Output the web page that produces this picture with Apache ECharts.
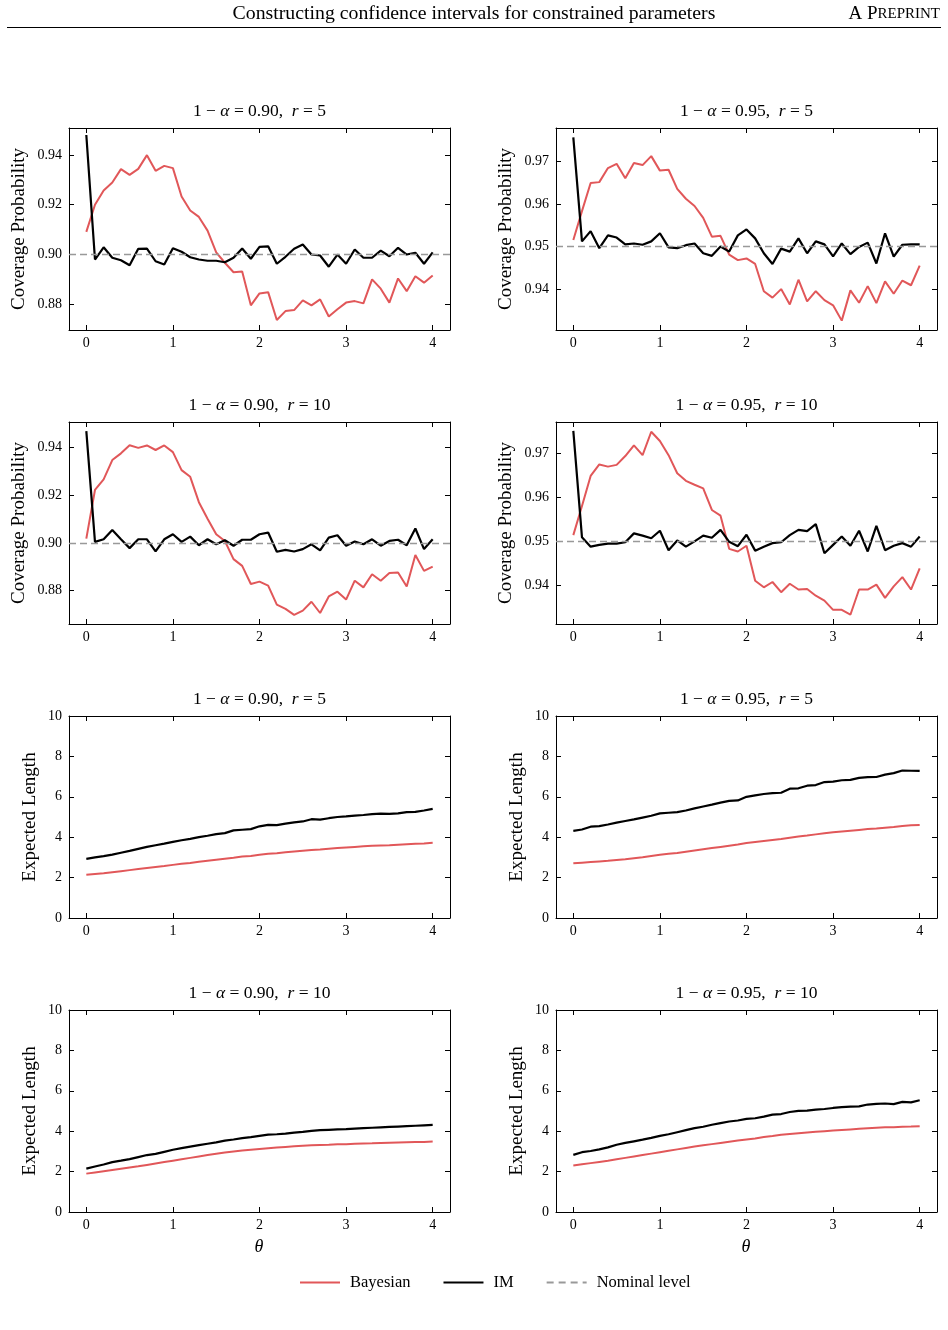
<!DOCTYPE html>
<html>
<head>
<meta charset="utf-8">
<title>Coverage and expected length</title>
<script src="https://cdn.jsdelivr.net/npm/echarts@6.0.0/dist/echarts.min.js"></script>
<style>
  html, body { margin: 0; padding: 0; background: #fff; }
  #chart { width: 948px; height: 1330px; }
</style>
</head>
<body>
<div id="chart"></div>
<script>
// theta grid
var theta = [0, 0.1, 0.2, 0.3, 0.4, 0.5, 0.6, 0.7, 0.8, 0.9, 1.0, 1.1, 1.2, 1.3, 1.4, 1.5, 1.6, 1.7, 1.8, 1.9, 2.0,
             2.1, 2.2, 2.3, 2.4, 2.5, 2.6, 2.7, 2.8, 2.9, 3.0, 3.1, 3.2, 3.3, 3.4, 3.5, 3.6, 3.7, 3.8, 3.9, 4.0];
var xTicks = [0, 1, 2, 3, 4];

// coverage probability
var cov90r5Bayes = [0.9091,0.9200,0.9257,0.9289,0.9343,0.9320,0.9344,0.9399,0.9336,0.9356,0.9347,0.9233,0.9177,0.9151,0.9096,0.9009,0.8967,0.8929,0.8932,0.8796,0.8844,0.8849,0.8737,0.8773,0.8777,0.8816,0.8796,0.8820,0.8751,0.8780,0.8807,0.8813,0.8804,0.8900,0.8863,0.8807,0.8904,0.8853,0.8913,0.8887,0.8916];
var cov90r5IM    = [0.9480,0.8980,0.9029,0.8987,0.8977,0.8957,0.9023,0.9024,0.8973,0.8960,0.9025,0.9011,0.8989,0.8980,0.8975,0.8975,0.8969,0.8987,0.9024,0.8983,0.9031,0.9033,0.8963,0.8991,0.9023,0.9040,0.9000,0.8996,0.8951,0.9000,0.8963,0.9020,0.8987,0.8987,0.9016,0.8993,0.9027,0.9000,0.9007,0.8963,0.9009];
var cov95r5Bayes = [0.9515,0.9583,0.9649,0.9651,0.9684,0.9694,0.9660,0.9696,0.9691,0.9712,0.9678,0.9680,0.9635,0.9612,0.9595,0.9567,0.9523,0.9525,0.9481,0.9468,0.9472,0.9459,0.9395,0.9380,0.9400,0.9364,0.9422,0.9371,0.9395,0.9374,0.9362,0.9326,0.9397,0.9368,0.9407,0.9367,0.9418,0.9389,0.9420,0.9409,0.9455];
var cov95r5IM    = [0.9756,0.9512,0.9536,0.9496,0.9526,0.9521,0.9505,0.9507,0.9504,0.9512,0.9531,0.9498,0.9496,0.9503,0.9507,0.9484,0.9478,0.9500,0.9488,0.9526,0.9540,0.9519,0.9484,0.9459,0.9495,0.9488,0.9519,0.9484,0.9512,0.9505,0.9477,0.9507,0.9482,0.9499,0.9509,0.9460,0.9531,0.9476,0.9504,0.9505,0.9505];
var cov90r10Bayes = [0.9018,0.9221,0.9265,0.9346,0.9374,0.9408,0.9397,0.9407,0.9388,0.9407,0.9379,0.9304,0.9276,0.9170,0.9101,0.9036,0.9008,0.8932,0.8904,0.8828,0.8838,0.8821,0.8742,0.8724,0.8699,0.8717,0.8754,0.8707,0.8776,0.8796,0.8763,0.8842,0.8814,0.8869,0.8842,0.8874,0.8876,0.8818,0.8949,0.8883,0.8901];
var cov90r10IM    = [0.9467,0.9004,0.9015,0.9054,0.9015,0.8978,0.9015,0.9015,0.8964,0.9015,0.9036,0.9004,0.9026,0.8990,0.9015,0.8994,0.9011,0.8988,0.9013,0.9013,0.9036,0.9043,0.8963,0.8971,0.8964,0.8974,0.8994,0.8969,0.9022,0.9032,0.8988,0.9006,0.8994,0.9015,0.8988,0.9008,0.9013,0.8990,0.9060,0.8974,0.9015];
var cov95r10Bayes = [0.9514,0.9580,0.9648,0.9674,0.9669,0.9673,0.9693,0.9717,0.9695,0.9748,0.9727,0.9695,0.9654,0.9637,0.9628,0.9620,0.9571,0.9558,0.9483,0.9477,0.9490,0.9411,0.9396,0.9408,0.9385,0.9404,0.9391,0.9392,0.9377,0.9366,0.9345,0.9345,0.9334,0.9391,0.9391,0.9402,0.9372,0.9398,0.9419,0.9391,0.9439];
var cov95r10IM    = [0.9750,0.9509,0.9488,0.9492,0.9495,0.9495,0.9498,0.9518,0.9513,0.9507,0.9524,0.9480,0.9502,0.9488,0.9500,0.9513,0.9508,0.9526,0.9499,0.9489,0.9515,0.9479,0.9488,0.9496,0.9498,0.9514,0.9526,0.9523,0.9539,0.9473,0.9492,0.9511,0.9490,0.9524,0.9477,0.9535,0.9480,0.9490,0.9496,0.9488,0.9511];

// expected length
var len90r5Bayes = [2.14,2.18,2.22,2.27,2.32,2.37,2.42,2.47,2.52,2.57,2.63,2.68,2.72,2.78,2.83,2.88,2.93,2.98,3.04,3.07,3.13,3.18,3.21,3.25,3.29,3.33,3.37,3.39,3.43,3.46,3.49,3.52,3.55,3.58,3.59,3.60,3.63,3.65,3.67,3.69,3.72];
var len90r5IM    = [2.93,3.00,3.06,3.14,3.23,3.32,3.42,3.52,3.60,3.68,3.77,3.85,3.92,4.00,4.07,4.15,4.20,4.34,4.37,4.40,4.54,4.61,4.60,4.67,4.73,4.78,4.89,4.87,4.94,5.00,5.03,5.07,5.10,5.14,5.17,5.15,5.18,5.24,5.25,5.32,5.40];
var len95r5Bayes = [2.71,2.74,2.77,2.80,2.83,2.87,2.91,2.96,3.01,3.07,3.13,3.18,3.22,3.28,3.34,3.40,3.46,3.52,3.58,3.64,3.71,3.76,3.81,3.86,3.91,3.97,4.03,4.08,4.14,4.19,4.24,4.28,4.32,4.36,4.40,4.43,4.47,4.51,4.56,4.59,4.60];
var len95r5IM    = [4.31,4.38,4.52,4.55,4.63,4.72,4.80,4.88,4.97,5.06,5.18,5.21,5.24,5.32,5.43,5.52,5.61,5.71,5.80,5.82,6.00,6.07,6.14,6.18,6.20,6.40,6.42,6.55,6.58,6.73,6.75,6.82,6.84,6.94,6.97,6.98,7.10,7.17,7.30,7.29,7.28];
var len90r10Bayes = [1.90,1.96,2.02,2.08,2.14,2.20,2.26,2.33,2.40,2.47,2.54,2.61,2.68,2.75,2.82,2.88,2.94,2.99,3.04,3.08,3.12,3.16,3.19,3.22,3.25,3.28,3.30,3.32,3.33,3.35,3.36,3.38,3.39,3.40,3.42,3.43,3.44,3.45,3.46,3.47,3.49];
var len90r10IM    = [2.15,2.25,2.35,2.47,2.54,2.62,2.72,2.82,2.88,2.98,3.08,3.16,3.24,3.31,3.38,3.45,3.53,3.59,3.66,3.71,3.77,3.83,3.85,3.88,3.93,3.97,4.02,4.05,4.07,4.09,4.10,4.13,4.15,4.17,4.19,4.21,4.23,4.25,4.27,4.29,4.31];
var len95r10Bayes = [2.30,2.36,2.42,2.48,2.54,2.61,2.68,2.75,2.82,2.89,2.96,3.03,3.10,3.17,3.24,3.30,3.36,3.42,3.48,3.54,3.59,3.64,3.71,3.76,3.82,3.86,3.90,3.94,3.97,4.00,4.03,4.06,4.09,4.12,4.15,4.17,4.19,4.20,4.22,4.23,4.25];
var len95r10IM    = [2.83,2.96,3.02,3.10,3.20,3.33,3.42,3.50,3.58,3.67,3.77,3.85,3.95,4.05,4.15,4.22,4.32,4.40,4.48,4.53,4.61,4.64,4.72,4.82,4.85,4.95,5.01,5.02,5.07,5.10,5.15,5.19,5.22,5.23,5.32,5.35,5.37,5.34,5.45,5.43,5.53];

// tick labels
var cov90Ticks = [0.88, 0.90, 0.92, 0.94];
var cov95Ticks = [0.94, 0.95, 0.96, 0.97];
var lenTicks = [0, 2, 4, 6, 8, 10];

var FONT = '"Liberation Serif", "DejaVu Serif", serif';
var RED = '#e15759';

// panel list: row by row, left then right
var panels = [
  {b: cov90r5Bayes,  im: cov90r5IM,  level: '0.90', r: '5',  nominal: 0.90, ticks: cov90Ticks, min: 0.8697, max: 0.9508, kind: 'cov'},
  {b: cov95r5Bayes,  im: cov95r5IM,  level: '0.95', r: '5',  nominal: 0.95, ticks: cov95Ticks, min: 0.9304, max: 0.9778, kind: 'cov'},
  {b: cov90r10Bayes, im: cov90r10IM, level: '0.90', r: '10', nominal: 0.90, ticks: cov90Ticks, min: 0.8661, max: 0.9505, kind: 'cov'},
  {b: cov95r10Bayes, im: cov95r10IM, level: '0.95', r: '10', nominal: 0.95, ticks: cov95Ticks, min: 0.9313, max: 0.9770, kind: 'cov'},
  {b: len90r5Bayes,  im: len90r5IM,  level: '0.90', r: '5',  ticks: lenTicks, min: 0, max: 10, kind: 'len'},
  {b: len95r5Bayes,  im: len95r5IM,  level: '0.95', r: '5',  ticks: lenTicks, min: 0, max: 10, kind: 'len'},
  {b: len90r10Bayes, im: len90r10IM, level: '0.90', r: '10', ticks: lenTicks, min: 0, max: 10, kind: 'len'},
  {b: len95r10Bayes, im: len95r10IM, level: '0.95', r: '10', ticks: lenTicks, min: 0, max: 10, kind: 'len'}
];

var colLeft = [69, 556];
var rowTop = [128, 422, 716, 1010];
var gridW = 381, gridH = 202;

function pairs(xs, ys) {
  return xs.map(function (x, i) { return [x, ys[i]]; });
}

var grids = [], xAxes = [], yAxes = [], series = [], graphics = [];

panels.forEach(function (p, i) {
  var col = i % 2, row = Math.floor(i / 2);
  var left = colLeft[col], top = rowTop[row];
  grids.push({left: left, top: top, width: gridW, height: gridH, containLabel: false});

  var lineAx = {show: true, onZero: false, lineStyle: {color: '#000', width: 1}};
  var tickAx = {show: true, inside: true, length: 5, lineStyle: {color: '#000', width: 1}};

  // bottom and top x axes
  xAxes.push({
    type: 'value', gridIndex: i, position: 'bottom', min: -0.2, max: 4.2,
    axisLine: lineAx, splitLine: {show: false},
    axisTick: Object.assign({customValues: xTicks}, tickAx),
    axisLabel: {customValues: xTicks, margin: 6, color: '#000', fontFamily: FONT, fontSize: 14}
  });
  xAxes.push({
    type: 'value', gridIndex: i, position: 'top', min: -0.2, max: 4.2,
    axisLine: lineAx, splitLine: {show: false},
    axisTick: Object.assign({customValues: xTicks}, tickAx),
    axisLabel: {show: false}
  });

  // left and right y axes
  var fmt = p.kind === 'cov' ? function (v) { return v.toFixed(2); } : function (v) { return String(Math.round(v)); };
  yAxes.push({
    type: 'value', gridIndex: i, position: 'left', min: p.min, max: p.max,
    axisLine: lineAx, splitLine: {show: false},
    axisTick: Object.assign({customValues: p.ticks}, tickAx),
    axisLabel: {customValues: p.ticks, formatter: fmt, margin: 7, color: '#000', fontFamily: FONT, fontSize: 14}
  });
  yAxes.push({
    type: 'value', gridIndex: i, position: 'right', min: p.min, max: p.max,
    axisLine: lineAx, splitLine: {show: false},
    axisTick: Object.assign({customValues: p.ticks}, tickAx),
    axisLabel: {show: false}
  });

  var xi = 2 * i, yi = 2 * i;

  if (p.kind === 'cov') {
    series.push({
      name: 'Nominal level', type: 'line', xAxisIndex: xi, yAxisIndex: yi,
      data: [], symbol: 'none', silent: true,
      lineStyle: {color: '#999', width: 1.3, type: [7, 5]},
      itemStyle: {color: '#999'},
      markLine: {
        silent: true, symbol: ['none', 'none'], label: {show: false},
        lineStyle: {color: '#999', width: 1.3, type: [7, 4]},
        data: [{yAxis: p.nominal}], animation: false
      }
    });
  }
  series.push({
    name: 'Bayesian', type: 'line', xAxisIndex: xi, yAxisIndex: yi,
    data: pairs(theta, p.b), symbol: 'none', silent: true,
    lineStyle: {color: RED, width: 2}, itemStyle: {color: RED}
  });
  series.push({
    name: 'IM', type: 'line', xAxisIndex: xi, yAxisIndex: yi,
    data: pairs(theta, p.im), symbol: 'none', silent: true,
    lineStyle: {color: '#000', width: 2.2}, itemStyle: {color: '#000'}
  });

  // panel title
  graphics.push({
    type: 'text', x: left + gridW / 2, y: top - 17,
    style: {
      text: '1 − {i|α} = ' + p.level + ',  {i|r} = ' + p.r,
      align: 'center', verticalAlign: 'middle',
      font: '17.5px ' + FONT, fill: '#000',
      rich: {i: {fontStyle: 'italic', fontFamily: FONT, fontSize: 17.5}}
    }
  });

  // y axis name
  var isCov = p.kind === 'cov';
  graphics.push({
    type: 'text', x: left - (isCov ? 50 : 39), y: top + gridH / 2, rotation: Math.PI / 2,
    style: {
      text: isCov ? 'Coverage Probability' : 'Expected Length',
      align: 'center', verticalAlign: 'middle', font: '19px ' + FONT, fill: '#000'
    }
  });

  // theta label under bottom row
  if (row === 3) {
    graphics.push({
      type: 'text', x: left + gridW / 2 - 0.5, y: top + gridH + 35,
      style: {text: 'θ', align: 'center', verticalAlign: 'middle', font: 'italic 18px ' + FONT, fill: '#000'}
    });
  }
});

// page header
graphics.push({
  type: 'text', x: 474, y: 14,
  style: {text: 'Constructing confidence intervals for constrained parameters', align: 'center', verticalAlign: 'middle', font: '19.8px ' + FONT, fill: '#000'}
});
graphics.push({
  type: 'text', x: 940, y: 14,
  style: {
    text: 'A P{s|REPRINT}', align: 'right', verticalAlign: 'middle', font: '19px ' + FONT, fill: '#000',
    rich: {s: {fontSize: 15, fontFamily: FONT}}
  }
});
graphics.push({
  type: 'line', shape: {x1: 7, y1: 27.5, x2: 941, y2: 27.5},
  style: {stroke: '#000', lineWidth: 1}
});

var chart = echarts.init(document.getElementById('chart'), null, {renderer: 'canvas'});
chart.setOption({
  animation: false,
  backgroundColor: '#fff',
  grid: grids,
  xAxis: xAxes,
  yAxis: yAxes,
  legend: {
    data: ['Bayesian', 'IM', 'Nominal level'],
    left: 294, top: 1269,
    itemWidth: 40, itemHeight: 12, itemGap: 32,
    selectedMode: false,
    itemStyle: {opacity: 0},
    textStyle: {fontFamily: FONT, fontSize: 16.5, color: '#000', padding: [0, 0, 0, 5]}
  },
  graphic: graphics,
  series: series
});
</script>
</body>
</html>
